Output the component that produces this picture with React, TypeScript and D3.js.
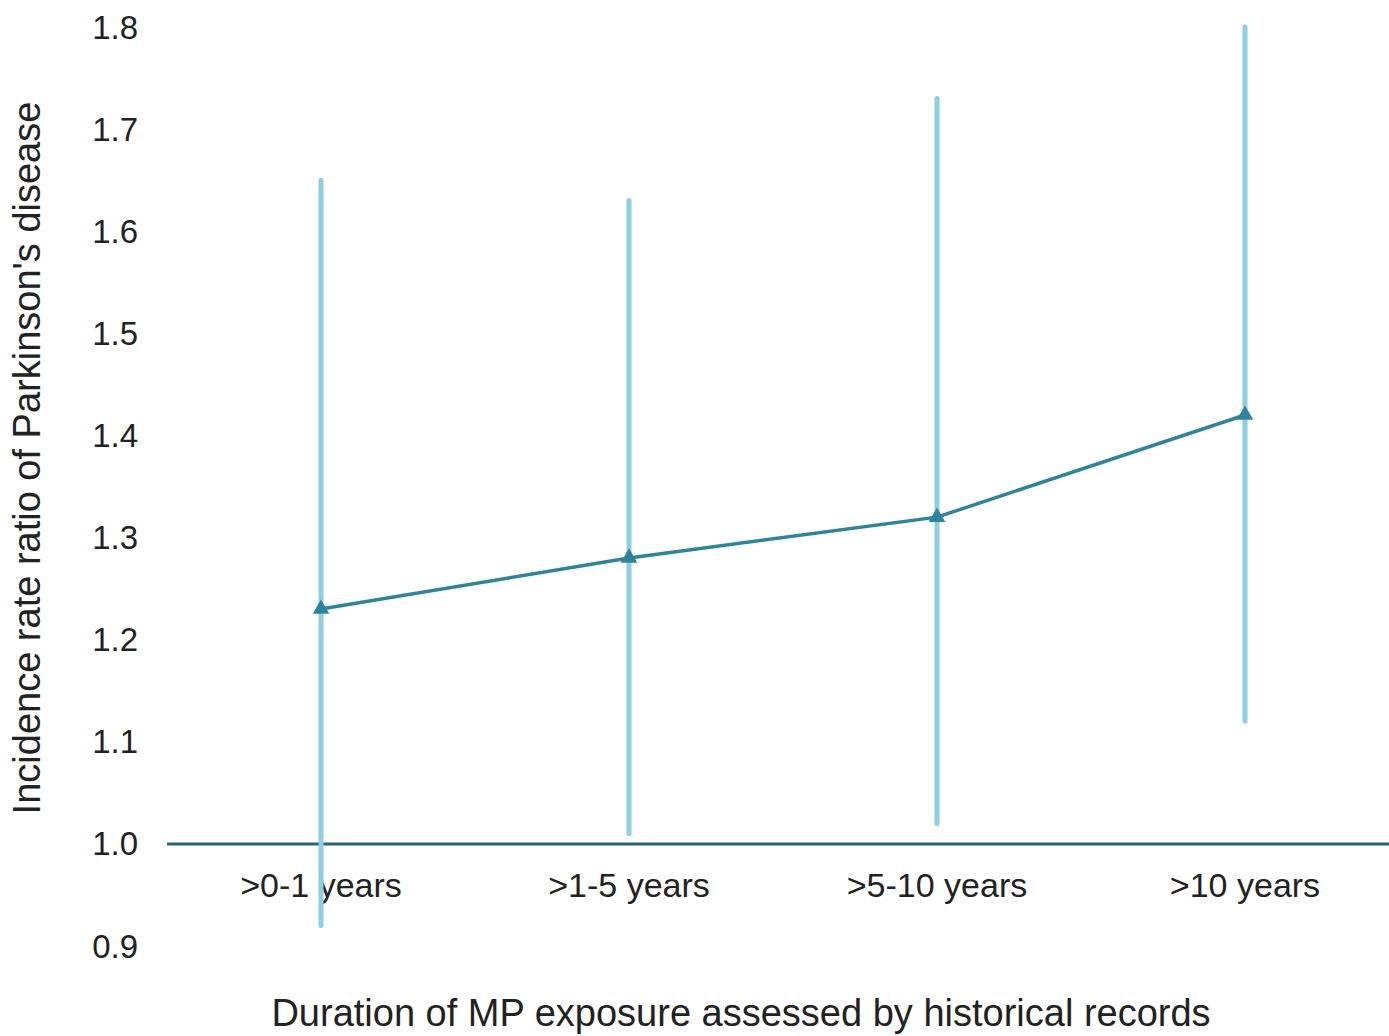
import React, { useEffect, useRef } from 'react';
import * as d3 from 'd3';

// values
const categories = ['>0-1 years', '>1-5 years', '>5-10 years', '>10 years'];
const irr = [1.23, 1.28, 1.32, 1.42];
const ciLow = [0.92, 1.01, 1.02, 1.12];
const ciHigh = [1.65, 1.63, 1.73, 1.8];
const yTicks = [0.9, 1.0, 1.1, 1.2, 1.3, 1.4, 1.5, 1.6, 1.7, 1.8];

const W = 1389, H = 1036;

export default function App() {
  const ref = useRef<SVGSVGElement>(null);

  useEffect(() => {
    document.body.style.margin = '0';
    document.body.style.overflow = 'hidden';

    const svg = d3.select(ref.current);
    svg.selectAll('*').remove();

    const x = d3.scaleBand().domain(categories).range([167, 1399]);
    const cx = (c: string) => (x(c) as number) + x.bandwidth() / 2;
    const y = d3.scaleLinear().domain([0.9, 1.8]).range([946, 27]);

    const font = 'Liberation Sans, Arial, sans-serif';

    // y tick labels
    svg.append('g').selectAll('text').data(yTicks).join('text')
      .attr('x', 138).attr('y', d => y(d)).attr('dy', '0.35em')
      .attr('text-anchor', 'end')
      .style('font-family', font).style('font-size', '33px').style('fill', '#222')
      .text(d => d.toFixed(1));

    // reference line at 1.0
    svg.append('line')
      .attr('x1', 167).attr('x2', W).attr('y1', y(1)).attr('y2', y(1))
      .attr('stroke', '#2b6373').attr('stroke-width', 3);

    // category labels
    svg.append('g').selectAll('text').data(categories).join('text')
      .attr('x', d => cx(d)).attr('y', y(1) + 41).attr('dy', '0.35em')
      .attr('text-anchor', 'middle')
      .style('font-family', font).style('font-size', '34px').style('fill', '#222')
      .text(d => d);

    // error bars
    svg.append('g').selectAll('line').data(categories).join('line')
      .attr('x1', d => cx(d)).attr('x2', d => cx(d))
      .attr('y1', (d, i) => y(ciLow[i])).attr('y2', (d, i) => y(ciHigh[i]))
      .attr('stroke', '#8fcfdf').attr('stroke-width', 5).attr('stroke-linecap', 'round');

    // line
    const line = d3.line<number>().x((d, i) => cx(categories[i])).y(d => y(d));
    svg.append('path').datum(irr).attr('d', line)
      .attr('fill', 'none').attr('stroke', '#2f8499').attr('stroke-width', 3.5);

    // triangle markers
    const tri = d3.symbol().type(d3.symbolTriangle).size(120);
    svg.append('g').selectAll('path').data(irr).join('path')
      .attr('d', tri)
      .attr('transform', (d, i) => `translate(${cx(categories[i])},${y(d)})`)
      .attr('fill', '#2f8499');

    // axis titles
    svg.append('text')
      .attr('x', 741).attr('y', 1026).attr('text-anchor', 'middle')
      .style('font-family', font).style('font-size', '38px').style('fill', '#222')
      .text('Duration of MP exposure assessed by historical records');

    svg.append('text')
      .attr('transform', `translate(27,458) rotate(-90)`)
      .attr('dy', '0.35em').attr('text-anchor', 'middle')
      .style('font-family', font).style('font-size', '38px').style('fill', '#222')
      .text("Incidence rate ratio of Parkinson's disease");
  }, []);

  return (
    <svg ref={ref} width={W} height={H} style={{ display: 'block' }} />
  );
}
